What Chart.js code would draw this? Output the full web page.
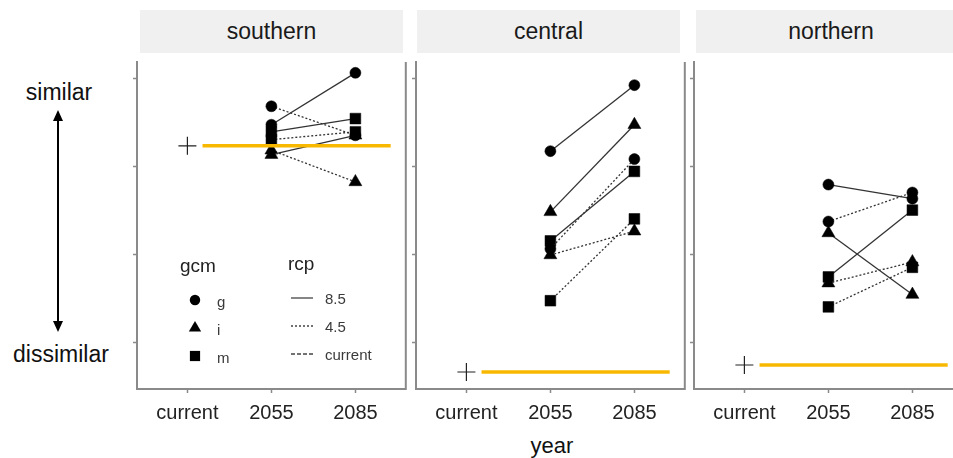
<!DOCTYPE html>
<html>
<head>
<meta charset="utf-8">
<script src="https://cdn.jsdelivr.net/npm/chart.js@4.4.1/dist/chart.umd.min.js"></script>
<style>
  body { margin: 0; background: #fff; font-family: "Liberation Sans", Arial, sans-serif; }
  #fig { position: relative; width: 953px; height: 458px; overflow: hidden; }
  #fig canvas { position: absolute; top: 50px; }
  .strip { position: absolute; top: 10px; height: 43px; line-height: 43px; background: #f0f0f0;
           text-align: center; font-size: 23px; color: #1a1a1a; }
  .lab { position: absolute; font-size: 23px; color: #111; transform: translate(-50%, -50%); white-space: nowrap; }
</style>
</head>
<body>
<div id="fig">
  <div class="strip" style="left:140px;width:263px">southern</div>
  <div class="strip" style="left:417px;width:263px">central</div>
  <div class="strip" style="left:696px;width:270px">northern</div>

  <div class="lab" style="left:59px;top:92px">similar</div>
  <div class="lab" style="left:61px;top:354px">dissimilar</div>
  <div class="lab" style="left:552px;top:446px;font-size:22px">year</div>

  <svg style="position:absolute;left:0;top:0" width="120" height="400">
    <line x1="58" y1="118" x2="58" y2="324" stroke="#000" stroke-width="2"/>
    <polygon points="58,110 53,121 63,121" fill="#000"/>
    <polygon points="58,332 53,321 63,321" fill="#000"/>
  </svg>

  <canvas id="c0" width="299" height="390"></canvas>
  <canvas id="c1" width="299" height="390"></canvas>
  <canvas id="c2" width="299" height="390"></canvas>
</div>

<script>
// years on the x axis, regions are the facets
const years = ["current", "2055", "2085"];
const regions = ["southern", "central", "northern"];

// one entry per gcm x rcp combination
const seriesGcm = ["g", "g", "i", "i", "m", "m"];
const seriesRcp = ["8.5", "4.5", "8.5", "4.5", "8.5", "4.5"];

// similarity values
const southern2055 = [3.48, 3.69, 3.14, 3.19, 3.40, 3.31];
const southern2085 = [4.07, 3.36, 3.36, 2.83, 3.55, 3.40];
const central2055 = [3.18, 2.07, 2.49, 2.00, 2.16, 1.48];
const central2085 = [3.93, 3.09, 3.48, 2.27, 2.95, 2.41];
const northern2055 = [2.80, 2.38, 2.25, 1.68, 1.75, 1.41];
const northern2085 = [2.64, 2.71, 1.55, 1.92, 2.51, 1.86];
const currentValue = [3.24, 0.67, 0.75];

const yTicks = [1, 2, 3, 4];
const gcmLegend = ["g", "i", "m"];
const rcpLegend = ["8.5", "4.5", "current"];

const values2055 = [southern2055, central2055, northern2055];
const values2085 = [southern2085, central2085, northern2085];

const shapeOf = { g: "circle", i: "triangle", m: "rect" };
const radiusOf = { g: 5.5, i: 7.5, m: 7.6 };
const dashOf = { "8.5": [], "4.5": [2, 2], "current": [4, 2] };

const panelLeft = [137, 416, 694];
const axisGrey = "#8a8a8a";
const orange = "#f8b800";

// right side of every panel box
const rightBorder = {
  id: "rightBorder",
  beforeDatasetsDraw(chart) {
    const { ctx, chartArea } = chart;
    ctx.save();
    ctx.strokeStyle = axisGrey;
    ctx.lineWidth = 2;
    ctx.beginPath();
    ctx.moveTo(chartArea.right, chartArea.top);
    ctx.lineTo(chartArea.right, chartArea.bottom + 1);
    ctx.stroke();
    ctx.restore();
  }
};

// gcm / rcp key inside the first panel
const panelLegend = {
  id: "panelLegend",
  afterDraw(chart) {
    if (chart.canvas.id !== "c0") return;
    const ctx = chart.ctx;
    const ox = panelLeft[0] - 20, oy = 50;
    ctx.save();
    ctx.translate(-ox, -oy);
    ctx.fillStyle = "#222";
    ctx.textBaseline = "middle";
    ctx.font = '19px "Liberation Sans", Arial, sans-serif';
    ctx.fillText("gcm", 180, 267);
    ctx.fillText("rcp", 288, 265);

    ctx.font = '15px "Liberation Sans", Arial, sans-serif';
    gcmLegend.forEach((g, i) => {
      const y = 300 + i * 28;
      ctx.fillStyle = "#000";
      ctx.strokeStyle = "#000";
      Chart.helpers.drawPoint(ctx, { pointStyle: shapeOf[g], radius: radiusOf[g] * 0.95, borderWidth: 0 }, 195, y);
      ctx.fillStyle = "#3a3a3a";
      ctx.fillText(g, 217, y + 3);
    });
    rcpLegend.forEach((r, i) => {
      const y = 298 + i * 28;
      ctx.strokeStyle = "#444";
      ctx.lineWidth = 1.3;
      ctx.setLineDash(dashOf[r]);
      ctx.beginPath();
      ctx.moveTo(291, y);
      ctx.lineTo(313, y);
      ctx.stroke();
      ctx.setLineDash([]);
      ctx.fillStyle = "#3a3a3a";
      ctx.fillText(r, 325, y + 2);
    });
    ctx.restore();
  }
};

function buildDatasets(r) {
  const sets = [];
  // current level, drawn on top of everything
  sets.push({
    data: [{ x: 0.18, y: currentValue[r] }, { x: 2.42, y: currentValue[r] }],
    showLine: true, borderColor: orange, borderWidth: 3.5, pointRadius: 0
  });
  sets.push({
    data: [{ x: 0, y: currentValue[r] }],
    pointStyle: "cross", pointRadius: 9, pointBorderColor: "#222", pointBorderWidth: 1.2
  });
  seriesGcm.forEach((g, i) => {
    sets.push({
      data: [{ x: 1, y: values2055[r][i] }, { x: 2, y: values2085[r][i] }],
      showLine: true,
      borderColor: "#333",
      borderWidth: 1.3,
      borderDash: dashOf[seriesRcp[i]],
      pointStyle: shapeOf[g],
      pointRadius: radiusOf[g],
      pointBackgroundColor: "#000",
      pointBorderColor: "#000",
      pointBorderWidth: 0.5
    });
  });
  return sets;
}

regions.forEach((name, r) => {
  const canvas = document.getElementById("c" + r);
  canvas.style.left = (panelLeft[r] - 20) + "px";
  new Chart(canvas, {
    type: "scatter",
    data: { datasets: buildDatasets(r) },
    options: {
      responsive: false,
      animation: false,
      layout: { padding: { left: 0, right: 10, top: 12, bottom: 0 } },
      plugins: { legend: { display: false }, tooltip: { enabled: false } },
      scales: {
        x: {
          type: "linear", min: -0.6, max: 2.6,
          afterBuildTicks: (s) => { s.ticks = years.map((y, i) => ({ value: i })); },
          afterFit: (s) => { s.height = 51; },
          ticks: {
            callback: (v) => years[v],
            color: "#222", padding: 8, maxRotation: 0,
            font: { family: '"Liberation Sans", Arial, sans-serif', size: 20 }
          },
          grid: { drawOnChartArea: false, tickLength: 4, color: axisGrey, tickWidth: 1.5 },
          border: { color: axisGrey, width: 2 }
        },
        y: {
          type: "linear", min: 0.477, max: 4.193,
          afterBuildTicks: (s) => { s.ticks = yTicks.map((v) => ({ value: v })); },
          afterFit: (s) => { s.width = 20; },
          ticks: { display: false },
          grid: { drawOnChartArea: false, tickLength: 4, color: axisGrey, tickWidth: 1.5 },
          border: { color: axisGrey, width: 2 }
        }
      }
    },
    plugins: [rightBorder, panelLegend]
  });
});
</script>
</body>
</html>
